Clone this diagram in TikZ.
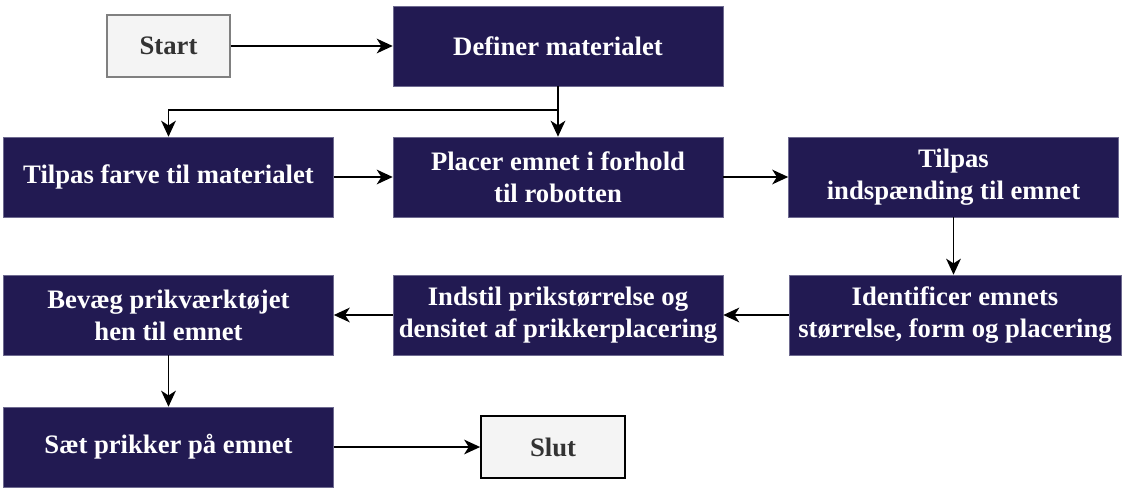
\documentclass[tikz,border=0pt]{standalone}
\usepackage{fontspec}
\setmainfont{Liberation Serif}
\usetikzlibrary{arrows.meta,positioning}
\definecolor{navy}{HTML}{221A52}
\definecolor{navyrule}{HTML}{6E6A90}
\definecolor{pale}{HTML}{F4F4F4}
\definecolor{ink}{HTML}{333333}
\tikzset{
  step box/.style={rectangle, draw=navyrule, fill=navy, text=white, align=center,
              font=\fontsize{20}{24}\selectfont\bfseries, minimum width=247.5pt,
              minimum height=60pt, inner sep=2pt},
  term/.style={rectangle, fill=pale, text=ink, align=center,
              font=\fontsize{20}{24}\selectfont\bfseries, minimum height=46pt, line width=1.3pt},
  fl/.style={-{Stealth[length=12pt,width=11pt,inset=3.5pt]}, draw=black, line width=1.4pt}
}

\begin{document}
\begin{tikzpicture}[x=0.75pt, y=-0.75pt]
  \useasboundingbox (0,0) rectangle (1124,496);
  \node[term, draw=gray, minimum width=92pt] (start) at (168.5,46) {Start};
  \node[step box] (def) at (558,46) {Definer materialet};
  \node[step box] (farve) at (168.5,177) {Tilpas farve til materialet};
  \node[step box] (placer) at (558,177) {Placer emnet i forhold\\til robotten};
  \node[step box] (indsp) at (953.5,177) {Tilpas\\indspænding til emnet};
  \node[step box, minimum width=249pt] (ident) at (955,315) {Identificer emnets\\størrelse, form og placering};
  \node[step box] (indstil) at (558,315) {Indstil prikstørrelse og\\densitet af prikkerplacering};
  \node[step box] (bevaeg) at (168.5,315) {Bevæg prikværktøjet\\hen til emnet};
  \node[step box] (saet) at (168.5,447) {Sæt prikker på emnet};
  \node[term, draw=black, minimum width=108pt] (slut) at (553,447) {Slut};
  \coordinate (split) at (558,110);
  % connectors
  \draw[fl] (start) -- (def);
  \draw[fl] (def.south) -- (split) -| (farve.north);
  \draw[fl] (split) -- (placer.north);
  \draw[fl] (farve) -- (placer);
  \draw[fl] (placer) -- (indsp);
  \draw[fl] (indsp.south) -- (indsp.south |- ident.north);
  \draw[fl] (ident) -- (indstil);
  \draw[fl] (indstil) -- (bevaeg);
  \draw[fl] (bevaeg) -- (saet);
  \draw[fl] (saet) -- (slut);
\end{tikzpicture}
\end{document}
